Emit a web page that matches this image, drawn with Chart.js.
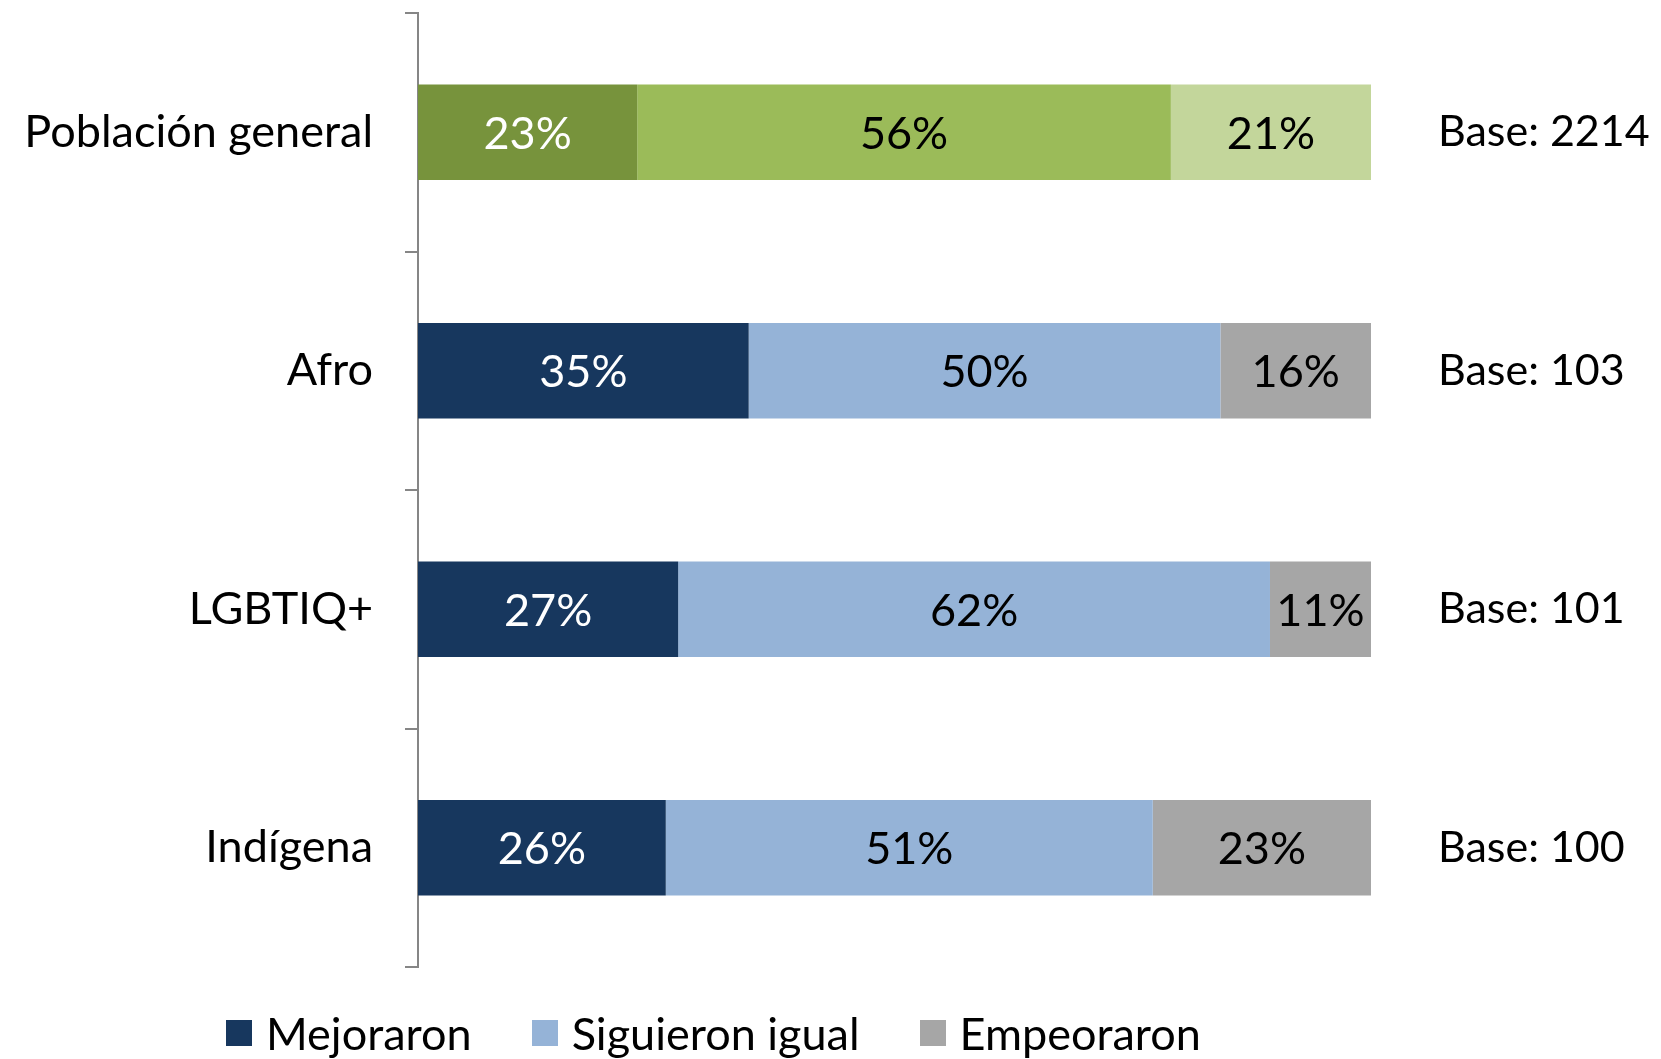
<!DOCTYPE html>
<html>
<head>
<meta charset="utf-8">
<script src="https://cdn.jsdelivr.net/npm/chart.js@4.4.1/dist/chart.umd.min.js"></script>
<style>
  body { margin: 0; background: #fff; }
  #wrap { position: relative; width: 1661px; height: 1059px; }
  #legend {
    position: absolute; left: 226px; top: 1008px; height: 50px;
    display: flex; align-items: center;
    font-family: Lato, sans-serif; font-size: 45px; color: #000;
  }
  #legend .item { display: flex; align-items: center; margin-right: 60px; }
  #legend .box { width: 26px; height: 26px; margin-right: 14px; }
</style>
</head>
<body>
<div id="wrap">
  <canvas id="chart" width="1661" height="1059"></canvas>
  <div id="legend"></div>
</div>
<script>
const groups = ['Población general', 'Afro', 'LGBTIQ+', 'Indígena'];
const bases = ['Base: 2214', 'Base: 103', 'Base: 101', 'Base: 100'];
const seriesNames = ['Mejoraron', 'Siguieron igual', 'Empeoraron'];

const mejoraron = [23.0, 34.7, 27.3, 26.0];
const siguieron = [56.0, 49.5, 62.1, 51.1];
const empeoraron = [21.0, 15.8, 10.6, 22.9];

// first row is green, the rest use the legend colours
const greenColors = ['#77933C', '#9BBB59', '#C3D69B'];
const seriesColors = ['#17375E', '#95B3D7', '#A6A6A6'];
const labelColors = ['#FFFFFF', '#000000', '#000000'];

const FONT = 'Lato, sans-serif';
const FSIZE = 45;

function rowColors(i) {
    return groups.map((g, j) => j === 0 ? greenColors[i] : seriesColors[i]);
}

const datasets = [mejoraron, siguieron, empeoraron].map((values, i) => ({
    label: seriesNames[i],
    data: values,
    backgroundColor: rowColors(i),
    borderWidth: 0,
    barPercentage: 0.4,
    categoryPercentage: 1
}));

// percent labels centered inside each segment
const barLabels = {
    id: 'barLabels',
    afterDatasetsDraw(chart) {
        const ctx = chart.ctx;
        ctx.save();
        ctx.font = `${FSIZE}px ${FONT}`;
        ctx.textAlign = 'center';
        ctx.textBaseline = 'middle';
        chart.data.datasets.forEach((ds, i) => {
            const meta = chart.getDatasetMeta(i);
            ctx.fillStyle = labelColors[i];
            meta.data.forEach((bar, j) => {
                const x = (bar.x + bar.base) / 2;
                ctx.fillText(Math.round(ds.data[j]) + '%', x, bar.y + 2);
            });
        });
        ctx.restore();
    }
};

// fixed axis widths, and no extra label padding above/below
function fixWidth(w) {
    return s => {
        s.width = w;
        s.paddingTop = 0;
        s.paddingBottom = 0;
    };
}

const chart = new Chart(document.getElementById('chart').getContext('2d'), {
    type: 'bar',
    data: { labels: groups, datasets },
    plugins: [barLabels],
    options: {
        indexAxis: 'y',
        responsive: false,
        animation: false,
        layout: { padding: { top: 13, bottom: 92, left: 0, right: 0 } },
        plugins: {
            legend: { display: false },
            tooltip: { enabled: false }
        },
        scales: {
            x: { stacked: true, min: 0, max: 100, display: false },
            y: {
                stacked: true,
                position: 'left',
                grid: { offset: true, drawOnChartArea: false, tickLength: 13, color: '#868686', lineWidth: 2 },
                border: { color: '#868686', width: 2 },
                ticks: { color: '#000', font: { family: FONT, size: FSIZE }, padding: 32 },
                afterFit: fixWidth(418)
            },
            y2: {
                type: 'category',
                labels: bases,
                position: 'right',
                offset: true,
                grid: { display: false, drawTicks: false },
                border: { display: false },
                ticks: { color: '#000', font: { family: FONT, size: 43 }, padding: 67 },
                afterFit: fixWidth(290)
            }
        }
    }
});

// legend uses the blue/grey series colours
const legendEl = document.getElementById('legend');
seriesNames.forEach((name, i) => {
    const item = document.createElement('div');
    item.className = 'item';
    const box = document.createElement('span');
    box.className = 'box';
    box.style.background = seriesColors[i];
    const txt = document.createElement('span');
    txt.textContent = name;
    item.appendChild(box);
    item.appendChild(txt);
    legendEl.appendChild(item);
});
</script>
</body>
</html>
